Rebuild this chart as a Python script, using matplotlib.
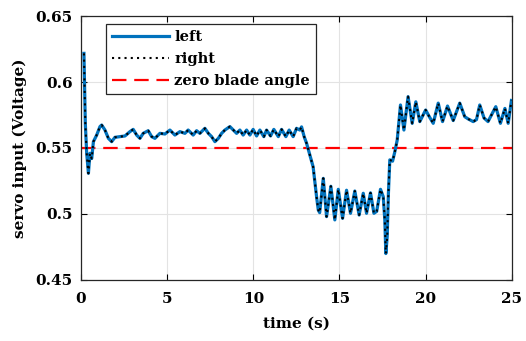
import matplotlib
matplotlib.use("Agg")
import matplotlib.pyplot as plt

# values, split by phase of the run
t_start = [0.17, 0.25, 0.33, 0.43, 0.52, 0.62, 0.72, 0.91, 1.10, 1.20, 1.39, 1.59, 1.78, 1.97]
v_start = [0.6217, 0.5687, 0.5460, 0.5308, 0.5460, 0.5420, 0.5548, 0.5598, 0.5662, 0.5674,
           0.5636, 0.5573, 0.5548, 0.5581]

t_steady = [2.26, 2.55, 2.84, 3.03, 3.23, 3.42, 3.61, 3.90, 4.10, 4.29, 4.58, 4.87, 5.16,
            5.45, 5.74, 6.03, 6.22, 6.51, 6.71, 6.90, 7.19, 7.39, 7.58, 7.77, 7.97, 8.16,
            8.35, 8.64, 8.84, 9.03, 9.22, 9.41, 9.61, 9.80, 9.99, 10.19, 10.38, 10.61,
            10.77, 11.00, 11.19, 11.45, 11.64, 11.89, 12.08, 12.31, 12.51, 12.70, 12.80]
v_steady = [0.5586, 0.5591, 0.5624, 0.5641, 0.5598, 0.5573, 0.5611, 0.5631, 0.5586, 0.5573,
            0.5611, 0.5606, 0.5636, 0.5598, 0.5624, 0.5611, 0.5636, 0.5598, 0.5631, 0.5611,
            0.5649, 0.5611, 0.5586, 0.5548, 0.5573, 0.5611, 0.5636, 0.5662, 0.5636, 0.5611,
            0.5636, 0.5598, 0.5636, 0.5598, 0.5641, 0.5591, 0.5636, 0.5586, 0.5636, 0.5591,
            0.5641, 0.5586, 0.5641, 0.5586, 0.5636, 0.5586, 0.5649, 0.5636, 0.5660]

t_dip = [12.95, 13.09, 13.28, 13.47, 13.67, 13.77, 13.85, 14.06, 14.25, 14.50, 14.73, 14.93,
         15.18, 15.41, 15.64, 15.89, 16.14, 16.38, 16.57, 16.80, 17.00, 17.16, 17.38, 17.54,
         17.63, 17.69, 17.77, 17.84]
v_dip = [0.5586, 0.5536, 0.5447, 0.5358, 0.5131, 0.5030, 0.5010, 0.5270, 0.4980, 0.5210,
         0.4955, 0.5187, 0.4967, 0.5180, 0.5005, 0.5174, 0.4992, 0.5157, 0.5005, 0.5160,
         0.5005, 0.5020, 0.5187, 0.5131, 0.4955, 0.4700, 0.4830, 0.5157]

t_high = [17.92, 18.08, 18.21, 18.35, 18.54, 18.74, 18.98, 19.22, 19.43, 19.66, 20.00, 20.20,
          20.44, 20.73, 20.98, 21.27, 21.60, 21.98, 22.27, 22.47, 22.76, 22.95, 23.14, 23.39,
          23.62, 24.07, 24.34, 24.60, 24.79, 24.98]
v_high = [0.5410, 0.5400, 0.5470, 0.5560, 0.5826, 0.5636, 0.5889, 0.5687, 0.5850, 0.5700,
          0.5788, 0.5740, 0.5687, 0.5840, 0.5700, 0.5818, 0.5708, 0.5840, 0.5737, 0.5720,
          0.5700, 0.5715, 0.5826, 0.5727, 0.5700, 0.5813, 0.5687, 0.5800, 0.5687, 0.5860]

zero_angle = 0.55

x_ticks = [0, 5, 10, 15, 20, 25]
y_ticks = [0.45, 0.5, 0.55, 0.6, 0.65]
y_tick_labels = ['0.45', '0.5', '0.55', '0.6', '0.65']

time_s = t_start + t_steady + t_dip + t_high
left = v_start + v_steady + v_dip + v_high
right = list(left)  # both servos overlap on the picture

plt.rcParams['font.family'] = ['DejaVu Serif']
plt.rcParams['font.weight'] = 'bold'

fig = plt.figure(figsize=(5.26, 3.41), dpi=100)
ax = fig.add_axes([0.154, 0.179, 0.819, 0.774])

ax.plot(time_s, left, color='#0072BD', lw=2.3, label='left', zorder=3)
ax.plot(time_s, right, color='black', lw=1.5, linestyle=(0, (1, 2.0)), label='right', zorder=4)
ax.axhline(zero_angle, color='red', lw=1.6, linestyle=(0, (6.5, 3.5)),
           label='zero blade angle', zorder=2)

ax.set_xlim(0, 25)
ax.set_ylim(0.45, 0.65)
ax.set_xticks(x_ticks)
ax.set_yticks(y_ticks)
ax.set_yticklabels(y_tick_labels)
ax.tick_params(direction='in', top=True, right=True, labelsize=11, length=4, width=0.8)
ax.tick_params(axis='x', pad=8.5)
ax.tick_params(axis='y', pad=6)
ax.grid(True, color='#e3e3e3', lw=0.8)
ax.set_axisbelow(True)
for sp in ax.spines.values():
    sp.set_linewidth(0.9)
    sp.set_color('#262626')

ax.set_xlabel('time (s)', fontsize=11, fontweight='bold', labelpad=8)
ax.set_ylabel('servo input (Voltage)', fontsize=11, fontweight='bold', labelpad=6)

leg = ax.legend(loc='upper left', bbox_to_anchor=(0.058, 0.97), borderaxespad=0,
                fontsize=10.5, frameon=True, fancybox=False, edgecolor='#262626',
                framealpha=1, handlelength=3.9, borderpad=0.42, labelspacing=0.55,
                handletextpad=0.35)
leg.get_frame().set_linewidth(0.9)

fig.savefig('out.png', dpi=100)
